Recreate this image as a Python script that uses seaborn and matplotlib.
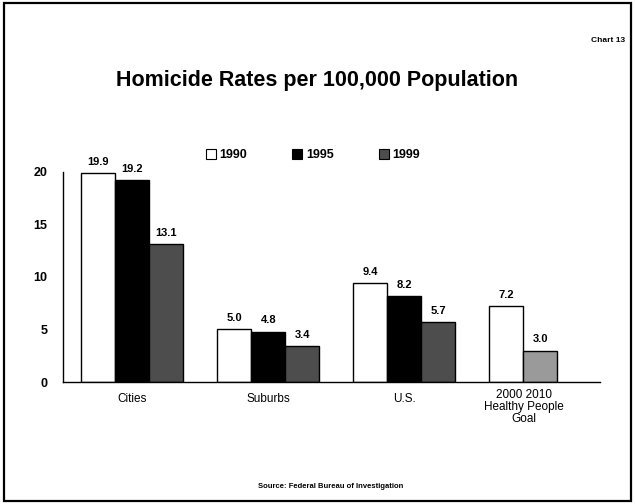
import matplotlib
matplotlib.use("Agg")
import matplotlib.pyplot as plt
import seaborn as sns
import pandas as pd
from matplotlib.patches import Rectangle, Patch

sns.set_theme(style="white")
plt.rcParams['font.family'] = ['Liberation Sans', 'DejaVu Sans']
plt.rcParams['text.color'] = 'black'
plt.rcParams['xtick.color'] = 'black'
plt.rcParams['ytick.color'] = 'black'

categories = ["Cities", "Suburbs", "U.S.", "Healthy People Goal"]
series = ["1990", "1995", "1999"]
v1990 = [19.9, 5.0, 9.4, 7.2]
v1995 = [19.2, 4.8, 8.2, 3.0]
v1999 = [13.1, 3.4, 5.7, None]
value_labels = {"1990": v1990, "1995": v1995, "1999": v1999}
goal_years = ["2000", "2010"]

rows = []
for s, vals in value_labels.items():
    for c, v in zip(categories, vals):
        if v is not None:
            rows.append({"cat": c, "series": s, "value": v})
df = pd.DataFrame(rows)

colors = {"1990": "#ffffff", "1995": "#000000", "1999": "#4d4d4d"}
goal2010_color = "#9a9a9a"

fig = plt.figure(figsize=(6.35, 5.04), dpi=100)
ax = fig.add_axes([0.099, 0.242, 0.846, 0.417])
sns.barplot(data=df, x="cat", y="value", hue="series", order=categories,
            hue_order=series, palette=colors, width=0.75, ax=ax,
            edgecolor="black", linewidth=1.0, legend=False)

ax.set_ylim(0, 20)
ax.set_xlim(-0.51, 3.44)
ax.set_yticks([0, 5, 10, 15, 20])
ax.set_xlabel("")
ax.set_ylabel("")
for sp in ["top", "right"]:
    ax.spines[sp].set_visible(False)
for sp in ["left", "bottom"]:
    ax.spines[sp].set_color("black")
    ax.spines[sp].set_linewidth(1.0)
ax.tick_params(axis="y", length=3, width=0.8, direction="out", colors="black",
               labelsize=9, pad=8)
ax.tick_params(axis="x", length=0, pad=8, labelsize=8.5, colors="black")
for t in ax.get_yticklabels():
    t.set_fontweight("bold")
ax.set_xticks([0, 1, 2])
ax.set_xticklabels(categories[:3])

# value labels and recolor goal 2010 bar
for cont, s in zip(ax.containers, series):
    for bar in cont:
        h = bar.get_height()
        if h != h or h == 0:
            continue
        xc = bar.get_x() + bar.get_width() / 2
        ax.text(xc, h + 0.6, f"{h:.1f}", ha="center", va="bottom",
                fontsize=8, fontweight="bold", clip_on=False)
# the 2010 goal bar sits in the 1995 slot of the last group
goal_bar = ax.containers[1][3]
goal_bar.set_facecolor(goal2010_color)

ax.text(2.88, -0.7, " ".join(goal_years) + "\nHealthy People\nGoal",
        ha="center", va="top", fontsize=8.5, linespacing=1.0)

# legend
handles = [Patch(facecolor=colors[s], edgecolor="black", linewidth=0.8, label=s)
           for s in series]
fig.legend(handles=handles, loc="center", bbox_to_anchor=(0.493, 0.692), ncol=3,
           frameon=False, prop={"size": 9, "weight": "bold"}, handlelength=0.8,
           handleheight=0.8, handletextpad=0.3, columnspacing=3.6)

fig.text(0.5, 0.84, "Homicide Rates per 100,000 Population", ha="center",
         va="center", fontsize=15.5, fontweight="bold")
fig.text(0.985, 0.92, "Chart 13", ha="right", va="center", fontsize=6,
         fontweight="bold")
fig.text(0.52, 0.034, "Source: Federal Bureau of Investigation", ha="center",
         va="center", fontsize=5.5, fontweight="bold")

fig.patches.append(Rectangle((0.006, 0.006), 0.988, 0.988, transform=fig.transFigure,
                             fill=False, edgecolor="black", linewidth=1.6))

fig.savefig("out.png", dpi=100)
